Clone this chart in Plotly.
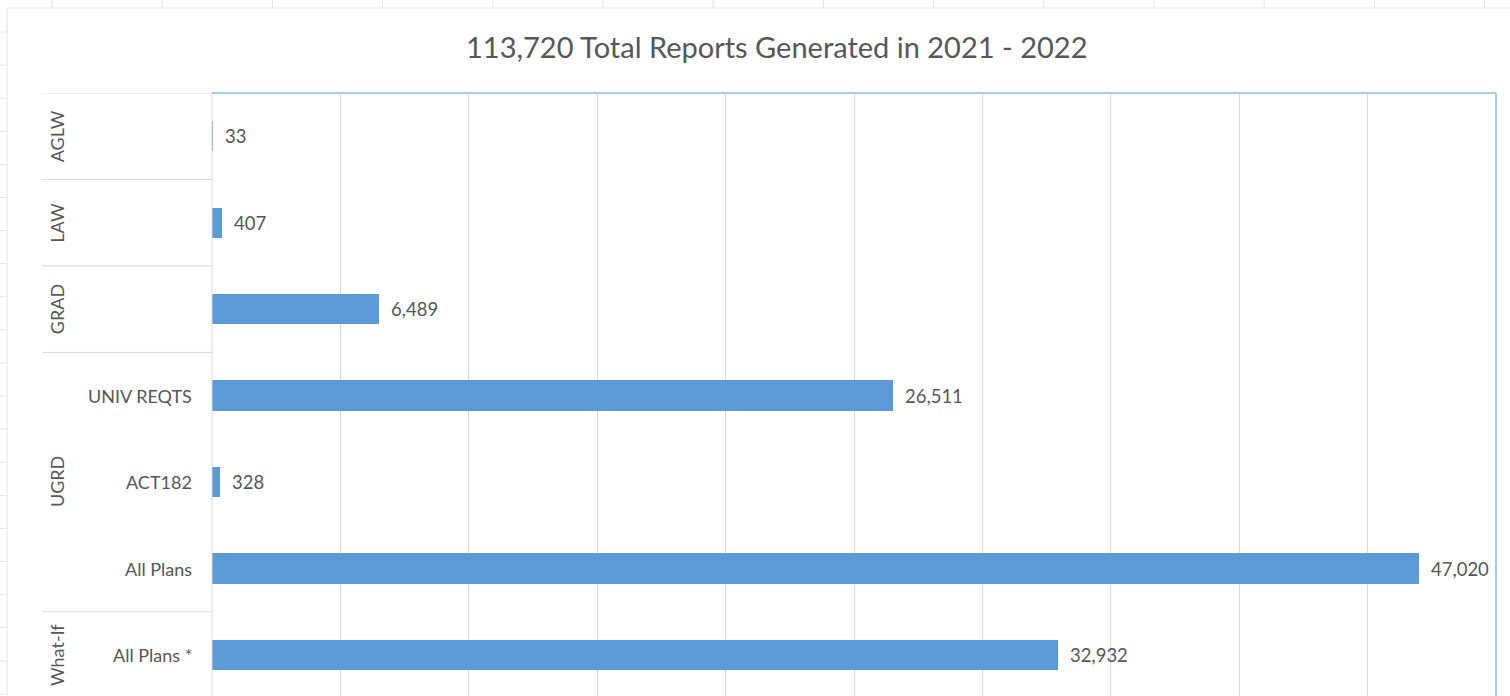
import plotly.graph_objects as go

# Report counts by career group and plan
groups = ["AGLW", "LAW", "GRAD", "UGRD", "UGRD", "UGRD", "What-If"]
plans = ["", "", "", "UNIV REQTS", "ACT182", "All Plans", "All Plans *"]
reports = [33, 407, 6489, 26511, 328, 47020, 32932]
x_ticks = [0, 5000, 10000, 15000, 20000, 25000, 30000, 35000, 40000, 45000, 50000]

W, H = 1510, 696
L, R, T, B = 212, 1496, 93, 696
ROW = 86.46  # pixel height of one category band

TEXT = "#575757"
BAR = "#5B9BD5"
GRID = "#D9D9D9"
BORDER = "#A9CBEA"
SHEET = "#E4E4E4"
FONT = "Lato, 'Open Sans', sans-serif"


def px(x):
    return (x - L) / (R - L)


def py(y):
    return (B - y) / (B - T)


n = len(reports)
rows = list(range(n))

fig = go.Figure(
    go.Bar(
        x=reports,
        y=rows,
        orientation="h",
        width=0.35,
        marker=dict(color=BAR, line=dict(width=0)),
        hoverinfo="x",
    )
)

annotations = []
shapes = []

# value labels to the right of each bar
for i, v in enumerate(reports):
    annotations.append(dict(
        x=v, y=i, xref="x", yref="y", text=f"{v:,}", showarrow=False,
        xanchor="left", yanchor="middle", xshift=10,
        font=dict(family=FONT, size=18.5, color=TEXT),
    ))

# inner (plan) labels
for i, p in enumerate(plans):
    if p:
        annotations.append(dict(
            x=px(194), y=i, xref="paper", yref="y", text=p, showarrow=False,
            xanchor="right", yanchor="middle",
            font=dict(family=FONT, size=18, color=TEXT),
        ))

# outer (group) labels, rotated, with separators between groups
spans = []
start = 0
for i in range(1, n + 1):
    if i == n or groups[i] != groups[start]:
        spans.append((groups[start], start, i - 1))
        start = i
for g, a, b in spans:
    annotations.append(dict(
        x=px(57), y=(a + b) / 2, xref="paper", yref="y", text=g, showarrow=False,
        textangle=-90, xanchor="center", yanchor="middle",
        font=dict(family=FONT, size=18, color=TEXT),
    ))
bounds = [spans[0][1] - 0.5] + [b + 0.5 for _, _, b in spans]
for yb in bounds:
    shapes.append(dict(
        type="line", xref="paper", yref="y", x0=px(42), x1=0, y0=yb, y1=yb,
        line=dict(color=GRID, width=1), layer="above",
    ))

# title
annotations.append(dict(
    x=px(776), y=py(46), xref="paper", yref="paper",
    text=f"{sum(reports):,} Total Reports Generated in 2021 - 2022",
    showarrow=False, xanchor="center", yanchor="middle",
    font=dict(family=FONT, size=29, color=TEXT),
))

# category axis line and plot-area border
shapes.append(dict(type="line", xref="paper", yref="paper", x0=0, x1=0, y0=0, y1=1,
                   line=dict(color=GRID, width=1)))
shapes.append(dict(type="line", xref="paper", yref="paper", x0=0, x1=1, y0=1, y1=1,
                   line=dict(color=BORDER, width=2)))
shapes.append(dict(type="line", xref="paper", yref="paper", x0=1, x1=1, y0=0, y1=1,
                   line=dict(color=BORDER, width=2)))

# worksheet frame behind the chart
shapes.append(dict(type="line", xref="paper", yref="paper", x0=px(7), x1=px(W), y0=py(8), y1=py(8),
                   line=dict(color=SHEET, width=1)))
shapes.append(dict(type="line", xref="paper", yref="paper", x0=px(7), x1=px(7), y0=py(8), y1=py(H),
                   line=dict(color=SHEET, width=1)))
cx = 52.0
while cx < W:
    shapes.append(dict(type="line", xref="paper", yref="paper", x0=px(cx), x1=px(cx),
                       y0=py(0), y1=py(8), line=dict(color=SHEET, width=1)))
    cx += 110.2
cy = 32.0
while cy < H:
    shapes.append(dict(type="line", xref="paper", yref="paper", x0=px(0), x1=px(7),
                       y0=py(cy), y1=py(cy), line=dict(color=SHEET, width=1)))
    cy += 33.1

fig.update_layout(
    width=W, height=H,
    margin=dict(l=L, r=W - R, t=T, b=H - B, autoexpand=False),
    paper_bgcolor="white", plot_bgcolor="white",
    showlegend=False,
    bargap=0,
    annotations=annotations,
    shapes=shapes,
    xaxis=dict(
        range=[x_ticks[0], x_ticks[-1]], tickvals=x_ticks, showticklabels=False,
        showgrid=True, gridcolor=GRID, gridwidth=1, zeroline=False, showline=False,
        ticks="", fixedrange=True,
    ),
    yaxis=dict(
        range=[(B - T) / ROW - 0.5, -0.5], showticklabels=False, showgrid=False,
        zeroline=False, showline=False, ticks="", fixedrange=True,
    ),
)

fig.write_html("out.html", config={"displayModeBar": False})
